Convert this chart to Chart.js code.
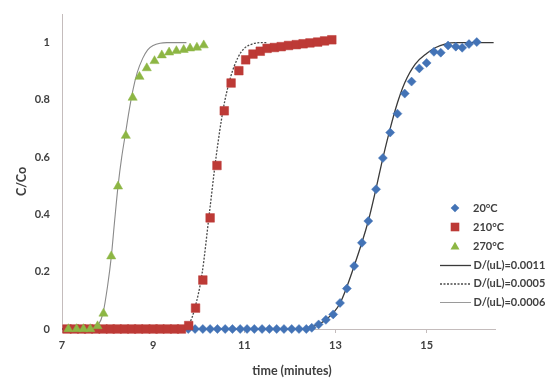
<!DOCTYPE html>
<html>
<head>
<meta charset="utf-8">
<title>C/Co vs time</title>
<script src="https://cdn.jsdelivr.net/npm/chart.js@4.4.1/dist/chart.umd.min.js"></script>
<style>
  html, body { margin: 0; padding: 0; background: #ffffff; }
  canvas { display: block; }
</style>
</head>
<body>
<canvas id="breakthroughChart" width="546" height="378"></canvas>
<script>
// Measured points (time in minutes, C/Co)
const t20 = [9.77, 9.92, 10.09, 10.25, 10.41, 10.58, 10.74, 10.91, 11.06, 11.22, 11.39, 11.55, 11.71, 11.87,
             12.04, 12.20, 12.36, 12.48, 12.63, 12.79, 12.95, 13.10, 13.25, 13.41, 13.58, 13.72, 13.89, 14.04,
             14.20, 14.36, 14.52, 14.67, 14.84, 15.00, 15.16, 15.31, 15.47, 15.64, 15.78, 15.93, 16.10];
const c20 = [0, 0, 0, 0, 0, 0, 0, 0, 0, 0, 0, 0, 0, 0,
             0, 0, 0, 0.004, 0.016, 0.032, 0.051, 0.091, 0.141, 0.22, 0.301, 0.377, 0.488, 0.597,
             0.686, 0.752, 0.822, 0.864, 0.91, 0.929, 0.968, 0.965, 0.99, 0.986, 0.982, 0.995, 1.002];

const t210 = [7.11, 7.27, 7.43, 7.58, 7.74, 7.90, 8.06, 8.21, 8.37, 8.53, 8.68, 8.84, 9.00, 9.15, 9.31, 9.47, 9.62,
              9.78, 9.93, 10.09, 10.25, 10.40, 10.56, 10.71, 10.88, 11.03, 11.19, 11.35,
              11.50, 11.66, 11.81, 11.97, 12.14, 12.29, 12.44, 12.61, 12.76, 12.92];
const c210 = [0, 0, 0, 0, 0, 0, 0, 0, 0, 0, 0, 0, 0, 0, 0, 0, 0,
              0.012, 0.073, 0.171, 0.388, 0.571, 0.762, 0.859, 0.902, 0.94, 0.96, 0.97,
              0.98, 0.983, 0.986, 0.99, 0.993, 0.996, 0.999, 1.002, 1.006, 1.01];

const t270 = [7.14, 7.32, 7.47, 7.62, 7.78, 7.91, 8.08, 8.23, 8.40, 8.55,
              8.70, 8.86, 9.03, 9.19, 9.35, 9.51, 9.67, 9.81, 9.96, 10.11];
const c270 = [0, 0, 0, 0, 0.01, 0.054, 0.254, 0.498, 0.675, 0.808,
              0.881, 0.911, 0.936, 0.956, 0.966, 0.971, 0.975, 0.98, 0.983, 0.991];

// Dispersion model curves
const fitA_t = [9.77, 12.30, 12.50, 12.79, 13.10, 13.41, 13.72, 13.89, 14.04, 14.20, 14.36, 14.52, 14.75, 15.00, 15.20, 15.40, 15.65, 16.47];
const fitA_c = [0, 0, 0.008, 0.032, 0.09, 0.22, 0.377, 0.49, 0.597, 0.70, 0.79, 0.86, 0.925, 0.962, 0.983, 0.995, 1.0, 1.0];

const fitB_t = [7.0, 9.69, 9.80, 9.91, 10.07, 10.23, 10.38, 10.54, 10.70, 10.86, 11.00, 11.17, 11.35, 11.50];
const fitB_c = [0, 0, 0.02, 0.07, 0.19, 0.40, 0.60, 0.77, 0.88, 0.948, 0.98, 0.995, 1.0, 1.0];

const fitC_t = [7.0, 7.69, 7.80, 7.90, 8.00, 8.08, 8.15, 8.23, 8.31, 8.40, 8.47, 8.55, 8.65, 8.77, 8.88, 9.00, 9.15, 9.30, 9.73];
const fitC_c = [0, 0, 0.015, 0.055, 0.15, 0.25, 0.37, 0.50, 0.60, 0.69, 0.76, 0.83, 0.895, 0.945, 0.975, 0.99, 0.998, 1.0, 1.0];

const seriesLabels = ['20°C', '210°C', '270°C'];
const fitLabels = ['D/(uL)=0.0011', 'D/(uL)=0.0005', 'D/(uL)=0.0006'];
const xTicks = [7, 9, 11, 13, 15];
const yTicks = [0, 0.2, 0.4, 0.6, 0.8, 1];

const BLUE = '#4373b6';
const RED = '#bd3a36';
const GREEN = '#8db644';
const TEXT = '#404040';
const AXIS = '#c4bcbc';
const FONT = 'Lato, "Liberation Sans", sans-serif';

function pts(xs, ys) {
    return xs.map((x, i) => ({ x: x, y: ys[i] }));
}

function markerSet(label, xs, ys, color, style, r, order) {
    return {
        label: label,
        data: pts(xs, ys),
        showLine: false,
        clip: false, // markers on the zero line hang below the axis
        pointStyle: style,
        pointRadius: r,
        pointBackgroundColor: color,
        pointBorderColor: color,
        pointBorderWidth: 0.5,
        order: order
    };
}

function fitSet(label, xs, ys, color, width, dash, order) {
    return {
        label: label,
        data: pts(xs, ys),
        showLine: true,
        clip: false,
        borderColor: color,
        borderWidth: width,
        borderDash: dash,
        pointRadius: 0,
        fill: false,
        cubicInterpolationMode: 'monotone',
        order: order
    };
}

// draw a legend marker by hand
function drawMarker(ctx, style, x, y, color) {
    ctx.fillStyle = color;
    ctx.beginPath();
    if (style === 'rectRot') {
        ctx.moveTo(x, y - 4.3); ctx.lineTo(x + 4.3, y); ctx.lineTo(x, y + 4.3); ctx.lineTo(x - 4.3, y);
    } else if (style === 'rect') {
        ctx.rect(x - 4.3, y - 4.3, 8.6, 8.6);
    } else {
        ctx.moveTo(x, y - 4.3); ctx.lineTo(x + 4.5, y + 3.6); ctx.lineTo(x - 4.5, y + 3.6);
    }
    ctx.closePath();
    ctx.fill();
}

const annotations = {
    id: 'annotations',
    afterDraw(chart) {
        const ctx = chart.ctx;
        ctx.save();

        // axis titles
        ctx.fillStyle = TEXT;
        ctx.font = 'bold 12.5px ' + FONT;
        ctx.textAlign = 'center';
        ctx.textBaseline = 'middle';
        ctx.fillText('time (minutes)', 292, 371);
        ctx.save();
        ctx.translate(21.5, 181.5);
        ctx.rotate(-Math.PI / 2);
        ctx.fillText('C/Co', 0, 0);
        ctx.restore();

        // legend
        const rows = [208, 227, 246, 265, 283.5, 302];
        const styles = ['rectRot', 'rect', 'triangle'];
        const colors = [BLUE, RED, GREEN];
        ctx.font = 'bold 11px ' + FONT;
        ctx.textAlign = 'left';
        seriesLabels.forEach((lab, i) => {
            drawMarker(ctx, styles[i], 455, rows[i], colors[i]);
            ctx.fillStyle = TEXT;
            ctx.fillText(lab, 473, rows[i]);
        });
        const lineStyles = [
            { color: '#3a3a3a', width: 1.3, dash: [] },
            { color: '#4a4a4a', width: 1.3, dash: [2, 1.5] },
            { color: '#9a9a9a', width: 1, dash: [] }
        ];
        fitLabels.forEach((lab, i) => {
            const y = rows[i + 3];
            const s = lineStyles[i];
            ctx.strokeStyle = s.color;
            ctx.lineWidth = s.width;
            ctx.setLineDash(s.dash);
            ctx.beginPath();
            ctx.moveTo(440, y + 0.5);
            ctx.lineTo(471, y + 0.5);
            ctx.stroke();
            ctx.setLineDash([]);
            ctx.fillStyle = TEXT;
            ctx.fillText(lab, 473.5, y);
        });
        ctx.restore();
    }
};

const ctx = document.getElementById('breakthroughChart').getContext('2d');
const chart = new Chart(ctx, {
    type: 'scatter',
    data: {
        datasets: [
            markerSet(seriesLabels[2], t270, c270, GREEN, 'triangle', 5.3, 0),
            markerSet(seriesLabels[1], t210, c210, RED, 'rect', 6.1, 1),
            markerSet(seriesLabels[0], t20, c20, BLUE, 'rectRot', 4.5, 2),
            fitSet(fitLabels[0], fitA_t, fitA_c, '#3a3a3a', 1.3, [], 3),
            fitSet(fitLabels[1], fitB_t, fitB_c, '#4a4a4a', 1.3, [2, 1.5], 4),
            fitSet(fitLabels[2], fitC_t, fitC_c, '#8a8a8a', 1.1, [], 5)
        ]
    },
    options: {
        responsive: false,
        animation: false,
        devicePixelRatio: 1,
        layout: { padding: { top: 14, right: 51, left: 0, bottom: 0 } },
        plugins: {
            legend: { display: false },
            tooltip: { enabled: false }
        },
        scales: {
            x: {
                type: 'linear',
                min: 7,
                max: 16.5,
                afterBuildTicks: (s) => { s.ticks = xTicks.map(v => ({ value: v })); },
                afterFit: (s) => { s.height = 49; },
                grid: { display: true, drawOnChartArea: false, drawTicks: true, tickLength: 4, color: AXIS },
                border: { display: true, color: AXIS, width: 1 },
                ticks: {
                    callback: (v) => String(v),
                    color: TEXT,
                    padding: 6,
                    maxRotation: 0,
                    font: { family: FONT, size: 11, weight: 'bold' }
                }
            },
            y: {
                type: 'linear',
                min: 0,
                max: 1.1,
                afterBuildTicks: (s) => { s.ticks = yTicks.map(v => ({ value: v })); },
                afterFit: (s) => { s.width = 62; },
                // ticks not drawn, but their length keeps labels away from the axis
                grid: { display: false, drawTicks: true, tickLength: 10 },
                border: { display: true, color: AXIS, width: 1 },
                ticks: {
                    callback: (v) => String(v),
                    color: TEXT,
                    padding: 2,
                    font: { family: FONT, size: 11, weight: 'bold' }
                }
            }
        }
    },
    plugins: [annotations]
});
</script>
</body>
</html>
